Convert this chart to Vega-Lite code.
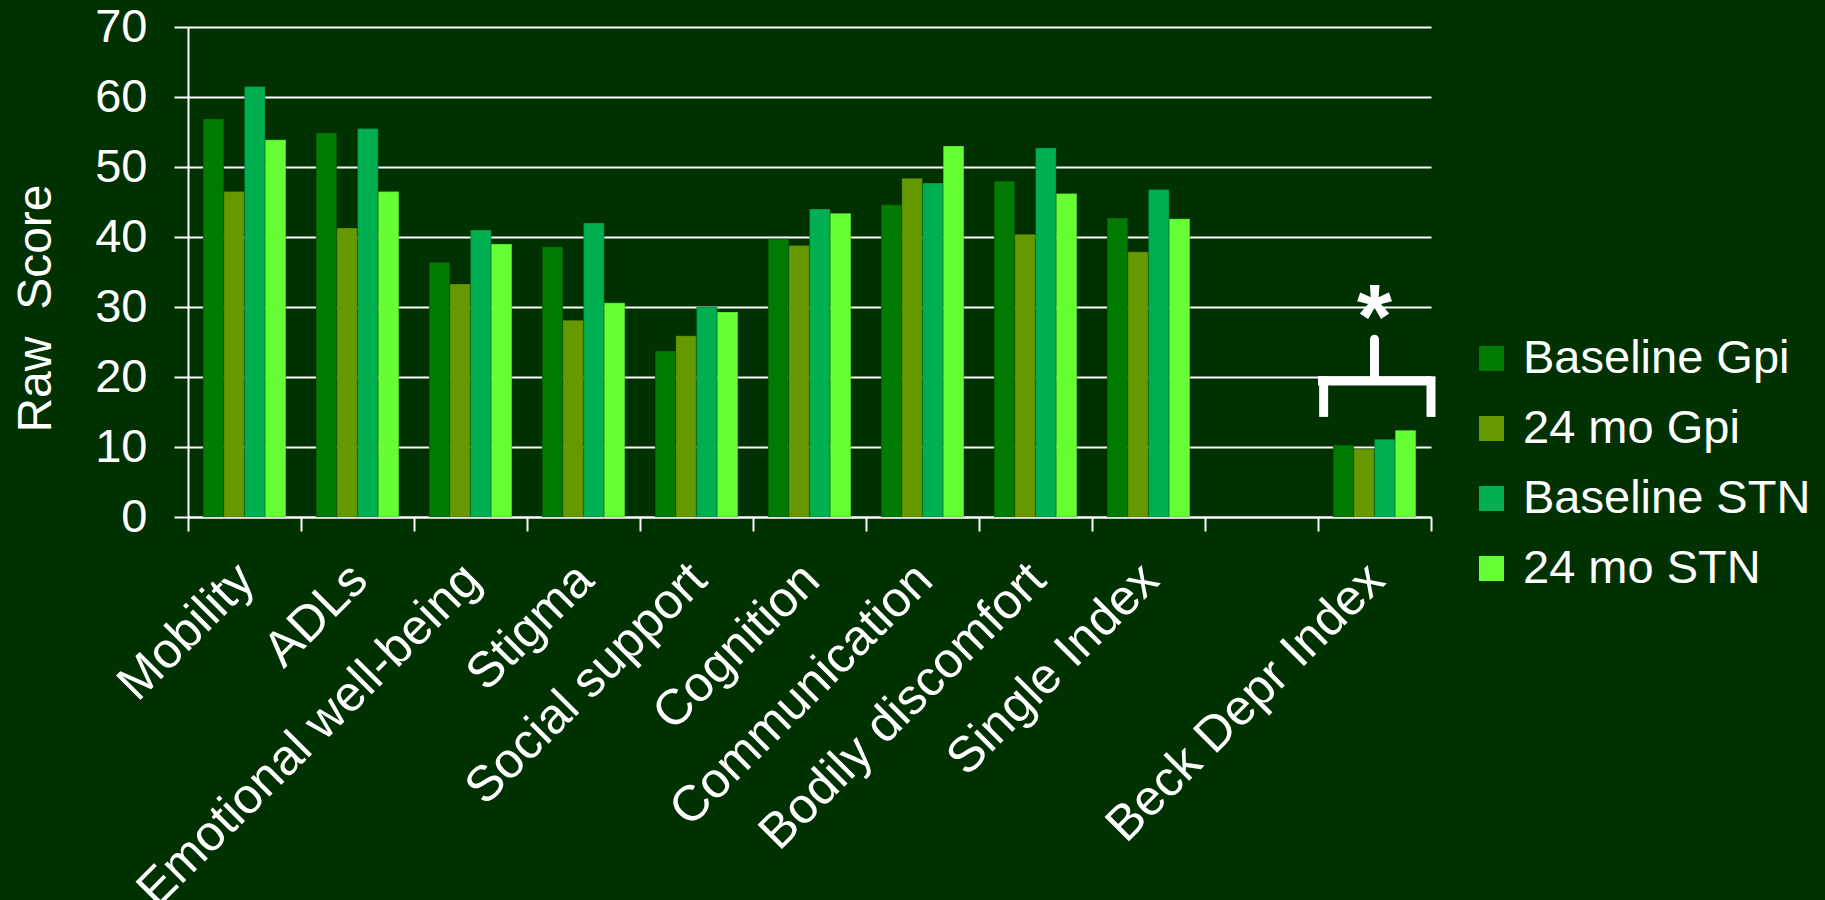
{
  "$schema": "https://vega.github.io/schema/vega-lite/v6.json",
  "width": 1243,
  "height": 490,
  "autosize": {"type": "none"},
  "padding": {"left": 188, "top": 27, "right": 394, "bottom": 383},
  "background": "#003100",
  "config": {
    "view": {"stroke": null},
    "font": "Liberation Sans"
  },
  "datasets": {
    "bars": [
      {"category": "Mobility", "series": "Baseline Gpi", "value": 56.9},
      {"category": "Mobility", "series": "24 mo Gpi", "value": 46.5},
      {"category": "Mobility", "series": "Baseline STN", "value": 61.5},
      {"category": "Mobility", "series": "24 mo STN", "value": 53.9},
      {"category": "ADLs", "series": "Baseline Gpi", "value": 54.9},
      {"category": "ADLs", "series": "24 mo Gpi", "value": 41.3},
      {"category": "ADLs", "series": "Baseline STN", "value": 55.5},
      {"category": "ADLs", "series": "24 mo STN", "value": 46.5},
      {"category": "Emotional well-being", "series": "Baseline Gpi", "value": 36.4},
      {"category": "Emotional well-being", "series": "24 mo Gpi", "value": 33.3},
      {"category": "Emotional well-being", "series": "Baseline STN", "value": 41.0},
      {"category": "Emotional well-being", "series": "24 mo STN", "value": 39.0},
      {"category": "Stigma", "series": "Baseline Gpi", "value": 38.6},
      {"category": "Stigma", "series": "24 mo Gpi", "value": 28.1},
      {"category": "Stigma", "series": "Baseline STN", "value": 42.0},
      {"category": "Stigma", "series": "24 mo STN", "value": 30.6},
      {"category": "Social support", "series": "Baseline Gpi", "value": 23.7},
      {"category": "Social support", "series": "24 mo Gpi", "value": 25.9},
      {"category": "Social support", "series": "Baseline STN", "value": 30.0},
      {"category": "Social support", "series": "24 mo STN", "value": 29.3},
      {"category": "Cognition", "series": "Baseline Gpi", "value": 39.7},
      {"category": "Cognition", "series": "24 mo Gpi", "value": 38.8},
      {"category": "Cognition", "series": "Baseline STN", "value": 44.0},
      {"category": "Cognition", "series": "24 mo STN", "value": 43.4},
      {"category": "Communication", "series": "Baseline Gpi", "value": 44.6},
      {"category": "Communication", "series": "24 mo Gpi", "value": 48.4},
      {"category": "Communication", "series": "Baseline STN", "value": 47.7},
      {"category": "Communication", "series": "24 mo STN", "value": 53.0},
      {"category": "Bodily discomfort", "series": "Baseline Gpi", "value": 48.0},
      {"category": "Bodily discomfort", "series": "24 mo Gpi", "value": 40.4},
      {"category": "Bodily discomfort", "series": "Baseline STN", "value": 52.7},
      {"category": "Bodily discomfort", "series": "24 mo STN", "value": 46.2},
      {"category": "Single Index", "series": "Baseline Gpi", "value": 42.7},
      {"category": "Single Index", "series": "24 mo Gpi", "value": 37.9},
      {"category": "Single Index", "series": "Baseline STN", "value": 46.8},
      {"category": "Single Index", "series": "24 mo STN", "value": 42.6},
      {"category": "Beck Depr Index", "series": "Baseline Gpi", "value": 10.3},
      {"category": "Beck Depr Index", "series": "24 mo Gpi", "value": 9.7},
      {"category": "Beck Depr Index", "series": "Baseline STN", "value": 11.1},
      {"category": "Beck Depr Index", "series": "24 mo STN", "value": 12.4}
    ],
    "annot": [
      {"category": "Beck Depr Index", "label": "*"}
    ]
  },
  "layer": [
    {
      "data": {"name": "bars"},
      "mark": {"type": "bar", "stroke": "#000000", "strokeOpacity": 0.15, "strokeWidth": 1.5},
      "encoding": {
        "x": {
          "field": "category",
          "type": "nominal",
          "scale": {
            "domain": ["Mobility", "ADLs", "Emotional well-being", "Stigma", "Social support", "Cognition", "Communication", "Bodily discomfort", "Single Index", " ", "Beck Depr Index"],
            "paddingInner": 0,
            "paddingOuter": 0
          },
          "axis": {
            "title": null,
            "labelAngle": -45,
            "labelAlign": "right",
            "labelBaseline": "top",
            "labelFontSize": 50,
            "labelColor": "white",
            "labelPadding": 23,
            "labelOffset": -16,
            "labelOverlap": false,
            "labelLimit": 1000,
            "tickBand": "extent",
            "tickSize": 14,
            "tickWidth": 2,
            "tickColor": "white",
            "domainColor": "white",
            "domainWidth": 2,
            "grid": false
          }
        },
        "xOffset": {
          "field": "series",
          "type": "nominal",
          "scale": {
            "domain": ["Baseline Gpi", "24 mo Gpi", "Baseline STN", "24 mo STN"],
            "paddingInner": 0,
            "paddingOuter": 0.73
          }
        },
        "y": {
          "field": "value",
          "type": "quantitative",
          "scale": {"domain": [0, 70], "nice": false},
          "axis": {
            "values": [0, 10, 20, 30, 40, 50, 60, 70],
            "grid": true,
            "gridColor": "white",
            "gridWidth": 2,
            "gridOpacity": 1,
            "domainColor": "white",
            "domainWidth": 2,
            "tickColor": "white",
            "tickSize": 14,
            "tickWidth": 2,
            "labelColor": "white",
            "labelFontSize": 47,
            "labelPadding": 27,
            "title": "Raw\u00a0\u00a0Score",
            "titleColor": "white",
            "titleFontSize": 48,
            "titleFontWeight": "normal",
            "titleX": -138,
            "titleY": 281,
            "titleAlign": "center",
            "titleBaseline": "alphabetic",
            "titleAngle": 270
          }
        },
        "color": {
          "field": "series",
          "type": "nominal",
          "scale": {
            "domain": ["Baseline Gpi", "24 mo Gpi", "Baseline STN", "24 mo STN"],
            "range": ["#007A00", "#669900", "#00B050", "#66FF33"]
          },
          "legend": {
            "title": null,
            "orient": "none",
            "legendX": 1280,
            "legendY": 308,
            "padding": 0,
            "symbolType": "square",
            "symbolSize": 625,
            "symbolStrokeWidth": 0,
            "symbolOpacity": 1,
            "labelFontSize": 47,
            "labelColor": "white",
            "labelOffset": 8,
            "rowPadding": 22,
            "labelLimit": 1000
          }
        }
      }
    },
    {
      "data": {"name": "annot"},
      "mark": {"type": "bar", "color": "white"},
      "encoding": {
        "x": {"field": "category", "type": "nominal"},
        "y": {"datum": 20.1},
        "y2": {"datum": 18.8}
      }
    },
    {
      "data": {"name": "annot"},
      "mark": {"type": "rule", "color": "white", "strokeWidth": 9},
      "encoding": {
        "x": {"field": "category", "type": "nominal", "bandPosition": 0.05},
        "y": {"datum": 20.1},
        "y2": {"datum": 14.3}
      }
    },
    {
      "data": {"name": "annot"},
      "mark": {"type": "rule", "color": "white", "strokeWidth": 9},
      "encoding": {
        "x": {"field": "category", "type": "nominal", "bandPosition": 1},
        "y": {"datum": 20.1},
        "y2": {"datum": 14.3}
      }
    },
    {
      "data": {"name": "annot"},
      "mark": {"type": "rule", "color": "white", "strokeWidth": 9, "strokeCap": "round"},
      "encoding": {
        "x": {"field": "category", "type": "nominal", "bandPosition": 0.5},
        "y": {"datum": 19.5},
        "y2": {"datum": 25.4}
      }
    },
    {
      "data": {"name": "annot"},
      "mark": {"type": "text", "color": "white", "fontSize": 90, "fontWeight": "bold", "baseline": "alphabetic", "align": "center"},
      "encoding": {
        "x": {"field": "category", "type": "nominal"},
        "y": {"datum": 24.2},
        "text": {"field": "label"}
      }
    }
  ]
}
